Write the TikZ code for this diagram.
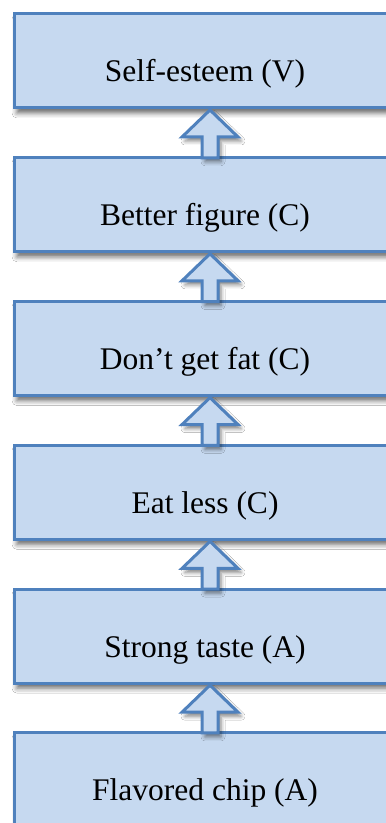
\documentclass[tikz,border=0pt]{standalone}
\usepackage{fontspec}
\setmainfont{Liberation Serif}
\usetikzlibrary{calc,shadows.blur}
\definecolor{boxfill}{RGB}{198,217,240}
\definecolor{boxline}{RGB}{79,129,189}
\tikzset{
  stepbox/.style={draw=boxline, fill=boxfill, line width=3pt, minimum width=382pt,
    minimum height=94pt, anchor=north west, outer sep=0pt, inner sep=0pt,
    blur shadow={shadow xshift=3pt, shadow yshift=-5pt, shadow blur radius=5pt, shadow opacity=60}},
  lbl/.style={anchor=base, font=\fontsize{31.5}{36}\selectfont, inner sep=0pt},
  uparr/.style={draw=boxline, fill=boxfill, line width=3pt, line join=miter,
    blur shadow={shadow xshift=3pt, shadow yshift=-4pt, shadow blur radius=4pt, shadow opacity=50}}
}
\begin{document}
\begin{tikzpicture}[x=1pt,y=1pt]
\useasboundingbox (0,0) rectangle (386,823);
\clip (0,0) rectangle (386,823);
\fill[white] (0,0) rectangle (386,823);
\node[stepbox] (b1) at (14,809) {};
\node[stepbox] (b2) at (14,665.2) {};
\node[stepbox] (b3) at (14,521.4) {};
\node[stepbox] (b4) at (14,377.6) {};
\node[stepbox] (b5) at (14,233.8) {};
\node[stepbox] (b6) at (14,90) {};
\node[lbl] (t1) at (205,741) {Self-esteem (V)};
\node[lbl] (t2) at (205,597.2) {Better figure (C)};
\node[lbl] (t3) at (205,453.4) {Don’t get fat (C)};
\node[lbl] (t4) at (205,309.6) {Eat less (C)};
\node[lbl] (t5) at (205,165.8) {Strong taste (A)};
\node[lbl] (t6) at (205,22) {Flavored chip (A)};
\foreach \u/\l in {b1/b2,b2/b3,b3/b4,b4/b5,b5/b6}{
  \draw[uparr] ($(\u.south)+(5,-2)$) coordinate (tip) -- ++(28,-27) -- ++(-20,0)
    -- ($(\l.north)+(13,0)$) -- ($(\l.north)+(-3,0)$) -- ($(tip)+(-8,-27)$)
    -- ++(-20,0) -- cycle;
}
\end{tikzpicture}
\end{document}
